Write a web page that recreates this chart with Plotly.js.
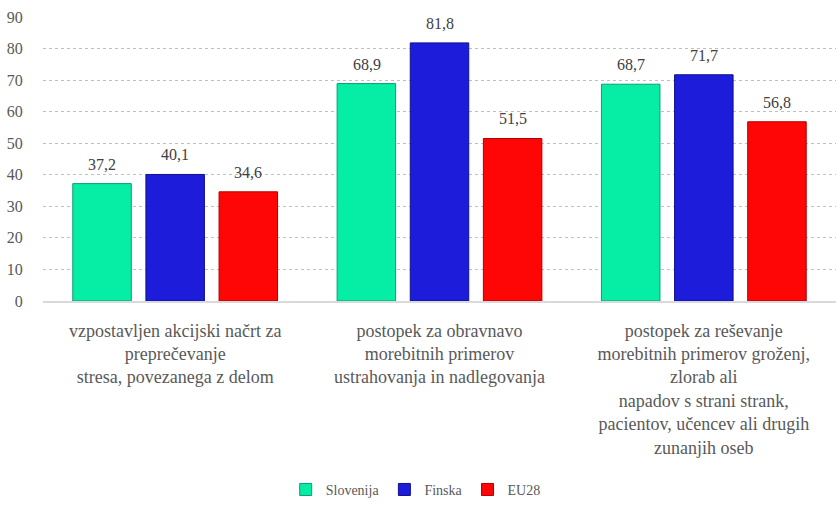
<!DOCTYPE html>
<html>
<head>
<meta charset="utf-8">
<script src="https://cdn.plot.ly/plotly-3.0.1.min.js"></script>
</head>
<body style="margin:0">
<div id="plot"></div>
<script>
var categories = [
    'vzpostavljen akcijski načrt za<br>preprečevanje<br>stresa, povezanega z delom',
    'postopek za obravnavo<br>morebitnih primerov<br>ustrahovanja in nadlegovanja',
    'postopek za reševanje<br>morebitnih primerov groženj,<br>zlorab ali<br>napadov s strani strank,<br>pacientov, učencev ali drugih<br>zunanjih oseb'
];
var seriesNames = ['Slovenija', 'Finska', 'EU28'];
var slovenija = [37.2, 68.9, 68.7];
var finska = [40.1, 81.8, 71.7];
var eu28 = [34.6, 51.5, 56.8];
var colors = ['#06EDA6', '#1C1CDA', '#FF0606'];
var edges = ['#0A9E74', '#10108F', '#B00000'];

var values = [slovenija, finska, eu28];
var serif = 'Times New Roman';

var data = values.map(function (v, i) {
    return {
        type: 'bar',
        name: seriesNames[i],
        x: categories,
        y: v,
        marker: { color: colors[i], line: { color: edges[i], width: 1 } }
    };
});

// value labels above the bars
var annotations = [];
values.forEach(function (v, i) {
    v.forEach(function (y, j) {
        annotations.push({
            x: categories[j], y: y, xref: 'x', yref: 'y',
            text: y.toFixed(1).replace('.', ','),
            showarrow: false, yanchor: 'bottom',
            xshift: (i - 1) * 73, yshift: 9,
            font: { family: serif, size: 16, color: '#404040' }
        });
    });
});

Plotly.newPlot('plot', data, {
    width: 836, height: 507,
    font: { family: serif, size: 16, color: '#595959' },
    margin: { l: 43, r: 0, t: 17, b: 206 },
    barmode: 'group',
    bargap: 0.17,
    bargroupgap: 0.2,
    legend: {
        orientation: 'h', x: 0.47, xanchor: 'center', y: -0.665, yanchor: 'middle',
        font: { family: serif, size: 14, color: '#595959' }
    },
    xaxis: {
        showgrid: false, showline: true, linecolor: '#D9D9D9', linewidth: 2,
        ticks: 'outside', ticklen: 12, tickcolor: '#ffffff',
        tickfont: { family: serif, size: 18, color: '#595959' },
        tickangle: 0
    },
    yaxis: {
        range: [0, 90], dtick: 10, zeroline: false,
        gridcolor: '#BFBFBF', griddash: 'dot',
        ticks: 'outside', ticklen: 16, tickcolor: '#ffffff',
        tickfont: { family: serif, size: 16, color: '#595959' }
    },
    annotations: annotations
}, { displayModeBar: false });
</script>
</body>
</html>
